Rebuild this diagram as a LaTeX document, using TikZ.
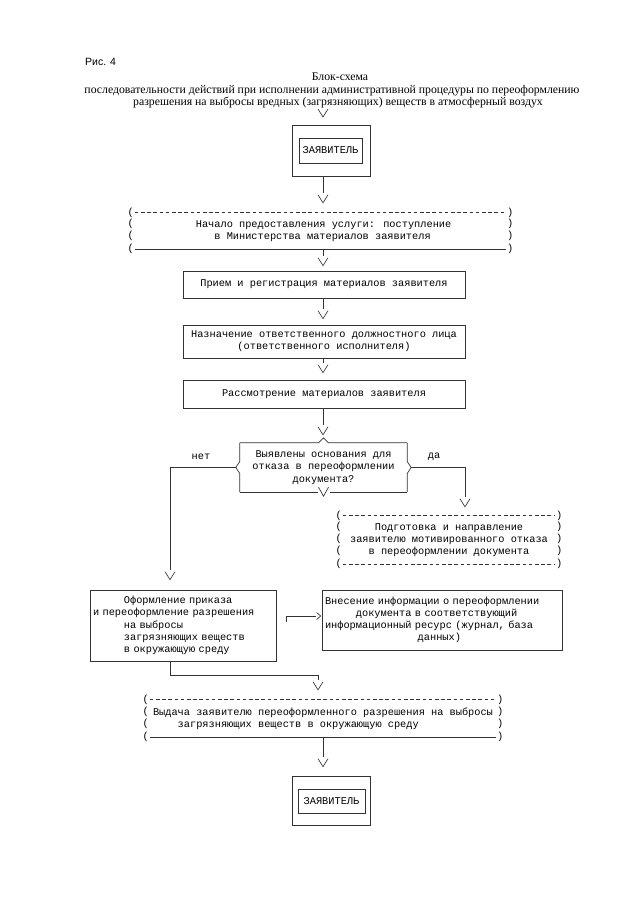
\documentclass[tikz,border=0pt]{standalone}
\usepackage{fontspec}
\setmainfont{Liberation Serif}
\newfontfamily\monof{Liberation Mono}
\newfontfamily\sansf{Liberation Sans}
\usetikzlibrary{calc,decorations.markings}
\newcommand\chsp[1]{\hspace*{#1\dimexpr6.181pt\relax}}
\tikzset{
 ln/.style={line width=0.65pt, draw=black!80},
 mono/.style={font=\monof\fontsize{10.3}{12.2}\selectfont, inner sep=0pt, text=black},
 solidbox/.style={mono, ln, draw, align=center},
 openbox/.style={mono, align=center},
 dashrule/.style={ln, dash pattern=on 3.6pt off 2.6pt},
 vee/.style={decoration={markings, mark=at position 1 with {\draw[ln, solid, shorten >=0pt, shorten <=0pt] (-8,5) -- (0,0) -- (-8,-5);}}, postaction={decorate}},
 conn/.style={ln, shorten >=10pt, vee},
 veeh/.style={decoration={markings, mark=at position 1 with {\draw[ln, solid, shorten >=0pt, shorten <=0pt] (-4,3.5) -- (0,0) -- (-4,-3.5);}}, postaction={decorate}},
 connh/.style={ln, shorten >=5pt, veeh},
 title/.style={font=\fontsize{11.75}{14}\selectfont, inner sep=0pt, text=black},
 paren/.style={mono}
}
\begin{document}
\begin{tikzpicture}[x=1pt,y=-1pt]
\useasboundingbox (0,0) rectangle (640,905);
\fill[white] (0,0) rectangle (640,905);

% titles
\node[font=\sansf\fontsize{10.5}{12}\selectfont, inner sep=0pt, anchor=west] (fig) at (85,62) {Рис. 4};
\node[title] (t1) at (340,77) {Блок-схема};
\node[title] (t2) at (332,91) {последовательности действий при исполнении административной процедуры по переоформлению};
\node[title] (t3) at (338,103) {разрешения на выбросы вредных (загрязняющих) веществ в атмосферный воздух};

\coordinate (col) at (323,0);
\coordinate (lx) at (170,0);
\coordinate (rx) at (465,0);

% nodes
\node[solidbox, minimum width=78, minimum height=51] (z1o) at (331,150.5) {};
\node[solidbox, minimum width=63, minimum height=25] (z1) at (330.5,150.5) {ЗАЯВИТЕЛЬ};

\node[openbox, align=left, minimum width=385, minimum height=36] (start) at (320.5,231) {\chsp{1}Начало предоставления услуги: поступление\\\chsp{4}в Министерства материалов заявителя};

\node[solidbox, minimum width=282, minimum height=27] (priem) at (324,284.5) {Прием и регистрация материалов заявителя};
\node[solidbox, minimum width=282, minimum height=33] (naz) at (324,341.5) {Назначение ответственного должностного лица\\(ответственного исполнителя)};
\node[solidbox, minimum width=282, minimum height=28] (rass) at (324,394) {Рассмотрение материалов заявителя};

\node[openbox, minimum width=167, minimum height=49] (dec) at (323.5,467.5) {Выявлены основания для\\отказа в переоформлении\\документа?};
\node[mono] (no) at (201,457) {нет};
\node[mono] (yes) at (434,457) {да};

\node[openbox, minimum width=226, minimum height=48] (refuse) at (449,540) {Подготовка и направление\\заявителю мотивированного отказа\\в переоформлении документа};

\node[solidbox, align=left, text width=180, minimum width=186, minimum height=71] (order) at (183,625.5) {\chsp{5}Оформление приказа\\и переоформление разрешения\\\chsp{5}на выбросы\\\chsp{5}загрязняющих веществ\\\chsp{5}в окружающую среду};

\node[solidbox, align=left, text width=234, minimum width=240, minimum height=60] (info) at (442,620) {Внесение информации о переоформлении\\\chsp{5}документа в соответствующий\\информационный ресурс (журнал, база\\\chsp{15}данных)};

\node[openbox, align=left, minimum width=360, minimum height=37] (final) at (323,718.5) {Выдача заявителю переоформленного разрешения на выбросы\\\chsp{4}загрязняющих веществ в окружающую среду};

\node[solidbox, minimum width=78, minimum height=49] (z2o) at (331,800.5) {};
\node[solidbox, minimum width=67, minimum height=24] (z2) at (331.5,801) {ЗАЯВИТЕЛЬ};

% bracket boxes
\draw[dashrule] ($(start.north west)+(7,0)$) -- ($(start.north east)+(-7,0)$);
\draw[ln] ($(start.south west)+(7,0)$) -- ($(start.south east)+(-7,0)$);
\foreach \dy [count=\i] in {-18,-7,5,18} {
  \node[paren] (startL\i) at ($(start.west)+(3,\dy)$) {(};
  \node[paren] (startR\i) at ($(start.east)+(-3,\dy)$) {)};
}
\draw[dashrule] ($(refuse.north west)+(7,0)$) -- ($(refuse.north east)+(-7,0)$);
\draw[dashrule] ($(refuse.south west)+(7,0)$) -- ($(refuse.south east)+(-7,0)$);
\foreach \dy [count=\i] in {-24,-13,-1,11,24} {
  \node[paren] (refL\i) at ($(refuse.west)+(3,\dy)$) {(};
  \node[paren] (refR\i) at ($(refuse.east)+(-3,\dy)$) {)};
}
\draw[dashrule] ($(final.north west)+(7,0)$) -- ($(final.north east)+(-7,0)$);
\draw[ln] ($(final.south west)+(7,0)$) -- ($(final.south east)+(-7,0)$);
\foreach \dy [count=\i] in {-18.5,-6.5,5.5,18.5} {
  \node[paren] (finL\i) at ($(final.west)+(3,\dy)$) {(};
  \node[paren] (finR\i) at ($(final.east)+(-3,\dy)$) {)};
}

% decision outline
\draw[ln] (dec.north west) -- ($(dec.north)+(-5,0)$) -- ($(dec.north)+(0,-5)$) -- ($(dec.north)+(5,0)$) -- (dec.north east);
\draw[ln] (dec.south west) -- ($(dec.south)+(-6,0)$);
\draw[ln] ($(dec.south)+(-5,-5)$) -- ($(dec.south)+(0,4)$) -- ($(dec.south)+(5,-5)$);
\draw[ln] ($(dec.south)+(6,0)$) -- (dec.south east);
\draw[ln] (dec.north west) -- ($(dec.west)+(0,-6)$) -- ($(dec.west)+(-4,0)$) -- ($(dec.west)+(0,6)$) -- (dec.south west);
\draw[ln] (dec.north east) -- ($(dec.east)+(0,-6)$) -- ($(dec.east)+(4,0)$) -- ($(dec.east)+(0,6)$) -- (dec.south east);

% connectors
\draw[ln] (318,109) -- (323,117) -- (328,109);
\draw[conn] (z1o.south -| col) -- ($(col |- start.north)+(0,-10)$);
\draw[conn] (start.south -| col) -- ($(col |- priem.north)+(0,-5)$);
\draw[conn] (priem.south -| col) -- ($(col |- naz.north)+(0,-6)$);
\draw[conn] (naz.south -| col) -- ($(col |- rass.north)+(0,-7)$);
\draw[conn] (rass.south -| col) -- ($(col |- dec.north)+(0,-8)$);
\draw[conn] ($(dec.west)+(-4,0)$) -| ($(lx |- order.north)+(0,-10)$);
\draw[conn] ($(dec.east)+(4,0)$) -| ($(rx |- refuse.north)+(0,-9)$);
\draw[connh] ($(order.east)+(10,-3.5)$) |- ($(info.west)+(-1,-4)$);
\draw[conn] (order.south -| lx) |- ($(final.north)+(-5,-24)$) -- ($(final.north)+(-5,-10)$);
\draw[conn] (final.south -| col) -- ($(col |- z2o.north)+(0,-9)$);
\end{tikzpicture}
\end{document}
